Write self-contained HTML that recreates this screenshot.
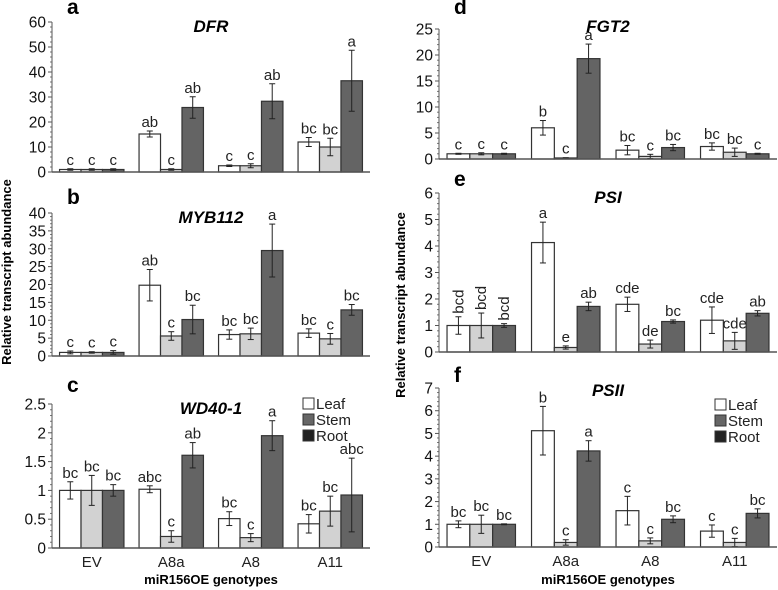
<!DOCTYPE html>
<html><head><meta charset="utf-8"><style>
body{margin:0;background:#fff}
svg{display:block;font-family:"Liberation Sans",Arial,sans-serif}
</style></head><body>
<svg id="fig" width="778" height="590">
<text x="11" y="272" transform="rotate(-90 11 272)" text-anchor="middle" font-size="13" font-weight="bold">Relative transcript abundance</text>
<text x="405" y="305" transform="rotate(-90 405 305)" text-anchor="middle" font-size="13" font-weight="bold">Relative transcript abundance</text>
<text x="211" y="584" text-anchor="middle" font-size="13" font-weight="bold">miR156OE genotypes</text>
<text x="608" y="584" text-anchor="middle" font-size="13" font-weight="bold">miR156OE genotypes</text>
</svg>
<script>
const categories=["EV","A8a","A8","A11"];
const seriesNames=["Leaf","Stem","Root"];
const dfrVals=[[1,1,1],[15.2,1,25.8],[2.5,2.5,28.3],[12,10,36.5]];
const dfrErr=[[0.3,0.3,0.3],[1.2,0.3,4.3],[0.3,0.8,7],[1.8,3.5,12.2]];
const dfrLet=[["c","c","c"],["ab","c","ab"],["c","c","ab"],["bc","bc","a"]];
const mybVals=[[1,1,1],[19.8,5.6,10.2],[6,6.2,29.5],[6.4,4.8,12.9]];
const mybErr=[[0.4,0.2,0.5],[4.4,1.2,4],[1.3,1.6,7.4],[1.2,1.5,1.5]];
const mybLet=[["c","c","c"],["ab","c","bc"],["bc","bc","a"],["bc","c","bc"]];
const wdVals=[[1,1,1],[1.02,0.2,1.61],[0.51,0.18,1.95],[0.42,0.64,0.92]];
const wdErr=[[0.15,0.26,0.1],[0.06,0.1,0.22],[0.12,0.07,0.26],[0.16,0.26,0.64]];
const wdLet=[["bc","bc","bc"],["abc","c","ab"],["bc","c","a"],["bc","bc","abc"]];
const fgtVals=[[1,1,1],[6,0.2,19.3],[1.7,0.5,2.2],[2.4,1.3,1]];
const fgtErr=[[0.1,0.2,0.1],[1.4,0.05,2.8],[0.9,0.4,0.6],[0.7,0.8,0.1]];
const fgtLet=[["c","c","c"],["b","c","a"],["bc","c","bc"],["bc","bc","c"]];
const psiVals=[[1,1,1],[4.13,0.17,1.72],[1.8,0.3,1.15],[1.2,0.42,1.46]];
const psiErr=[[0.33,0.47,0.07],[0.77,0.06,0.16],[0.27,0.15,0.06],[0.5,0.32,0.1]];
const psiLet=[["bcd","bcd","bcd"],["a","e","ab"],["cde","de","bc"],["cde","cde","ab"]];
const psiiVals=[[1,1,1],[5.12,0.2,4.23],[1.6,0.27,1.22],[0.7,0.2,1.48]];
const psiiErr=[[0.15,0.4,0.02],[1.07,0.12,0.45],[0.63,0.13,0.15],[0.27,0.18,0.2]];
const psiiLet=[["bc","bc","bc"],["b","c","a"],["c","c","bc"],["c","c","bc"]];
const dfrTicks=["0","10","20","30","40","50","60"];
const mybTicks=["0","5","10","15","20","25","30","35","40"];
const wdTicks=["0","0.5","1","1.5","2","2.5"];
const fgtTicks=["0","5","10","15","20","25"];
const psiTicks=["0","1","2","3","4","5","6"];
const psiiTicks=["0","1","2","3","4","5","6","7"];

const fills=["#ffffff","#d2d2d2","#646464"];
const NS="http://www.w3.org/2000/svg";
const svg=document.getElementById('fig');
function mk(tag,attrs,parent){const e=document.createElementNS(NS,tag);for(const k in attrs)e.setAttribute(k,attrs[k]);(parent||svg).appendChild(e);return e;}

function panel(cfg){
  const g=mk('g',{});
  
  
  const ticks=cfg.ticks.map(Number);const max=ticks[ticks.length-1];
  const y=v=>cfg.y0-(v/max)*(cfg.y0-cfg.yTop);
  const cw=(cfg.x1-cfg.x0)/categories.length;const bw=cw*0.27;
  const xc=i=>cfg.x0+cw*(i+0.5);
  const L=mk('text',{x:cfg.x0+15,y:cfg.letterY,'font-size':21,'font-weight':'bold'},g);L.textContent=cfg.id;
  
  
  const T=mk('text',{x:cfg.x0+(cfg.x1-cfg.x0)*0.5,y:cfg.titleY,'font-size':17,'font-weight':'bold','font-style':'italic','text-anchor':'middle'},g);T.textContent=cfg.title;
  
  
  const step=ticks[1]-ticks[0];
  ticks.forEach((t,k)=>{
    const tk=mk('line',{x1:cfg.x0-4,x2:cfg.x0,y1:y(t),y2:y(t),stroke:'#555'},g);
    
    
    const lb=mk('text',{x:cfg.x0-6,y:y(t)+5.5,'font-size':15.5,'text-anchor':'end',fill:'#111'},g);lb.textContent=cfg.ticks[k];
    
    
    if(k<ticks.length-1){for(let m=1;m<cfg.minor;m++){mk('line',{x1:cfg.x0-2,x2:cfg.x0,y1:y(t+step*m/cfg.minor),y2:y(t+step*m/cfg.minor),stroke:'#777'},g);}}
  });
  const ax=mk('line',{x1:cfg.x0,x2:cfg.x0,y1:cfg.y0,y2:cfg.yTop,stroke:'#555','stroke-width':1},g);
  
  
  categories.forEach((c,i)=>{
    cfg.vals[i].forEach((v,s)=>{
      const bx=xc(i)+(s-1.5)*bw;
      const r=mk('rect',{x:bx,y:y(v),width:bw,height:cfg.y0-y(v),fill:fills[s],stroke:'#333','stroke-width':1.2},g);
      
      
      const e=cfg.err[i][s],cx=bx+bw/2;
      mk('line',{x1:cx,x2:cx,y1:y(v+e),y2:y(Math.max(0,v-e)),stroke:'#222'},g);
      mk('line',{x1:cx-3,x2:cx+3,y1:y(v+e),y2:y(v+e),stroke:'#222'},g);
      mk('line',{x1:cx-3,x2:cx+3,y1:y(Math.max(0,v-e)),y2:y(Math.max(0,v-e)),stroke:'#222'},g);
      let lt;
      if(cfg.rotEV&&i===0){const ty=y(v+e)-3;lt=mk('text',{x:cx+5,y:ty,'font-size':15,fill:'#222',transform:`rotate(-90 ${cx+5} ${ty})`},g);}
      else lt=mk('text',{x:cx,y:y(v+e)-4,'font-size':15,'text-anchor':'middle',fill:'#222'},g);
      lt.textContent=cfg.lets[i][s];
      
      
    });
  });
  const xa=mk('line',{x1:cfg.x0,x2:cfg.x1,y1:cfg.y0,y2:cfg.y0,stroke:'#555','stroke-width':1.5},g);
  
  
  if(cfg.xlabels){categories.forEach((c,i)=>{const t=mk('text',{x:xc(i),y:cfg.y0+19,'font-size':15,'text-anchor':'middle',fill:'#222'},g);t.textContent=c;
    
    });}
  if(cfg.legend){const lg=mk('g',{},g);
    
    
    const lf=["#ffffff","#666666","#222222"];
    seriesNames.forEach((n,k)=>{const ly=cfg.legend[1]+k*16;
      mk('rect',{x:cfg.legend[0],y:ly-11,width:11,height:11,fill:lf[k],stroke:'#333'},lg);
      const t=mk('text',{x:cfg.legend[0]+13,y:ly,'font-size':15,fill:'#222'},lg);t.textContent=n;
      
      });}
}
panel({id:'a',title:'DFR',x0:52,x1:370,y0:172,yTop:22,ticks:dfrTicks,minor:5,vals:dfrVals,err:dfrErr,lets:dfrLet,letterY:14,titleY:32});
panel({id:'b',title:'MYB112',x0:52,x1:370,y0:356,yTop:213,ticks:mybTicks,minor:5,vals:mybVals,err:mybErr,lets:mybLet,letterY:204,titleY:223});
panel({id:'c',title:'WD40-1',x0:52,x1:370,y0:548,yTop:404,ticks:wdTicks,minor:5,vals:wdVals,err:wdErr,lets:wdLet,letterY:392,titleY:414,xlabels:true,legend:[303,409]});
panel({id:'d',title:'FGT2',x0:439,x1:777,y0:159,yTop:29,ticks:fgtTicks,minor:5,vals:fgtVals,err:fgtErr,lets:fgtLet,letterY:14,titleY:32});
panel({id:'e',title:'PSI',x0:439,x1:777,y0:352,yTop:193,ticks:psiTicks,minor:5,vals:psiVals,err:psiErr,lets:psiLet,letterY:186,titleY:203,rotEV:true});
panel({id:'f',title:'PSII',x0:439,x1:777,y0:547,yTop:388,ticks:psiiTicks,minor:5,vals:psiiVals,err:psiiErr,lets:psiiLet,letterY:382,titleY:396,xlabels:true,legend:[715,410]});
</script>
</body></html>
